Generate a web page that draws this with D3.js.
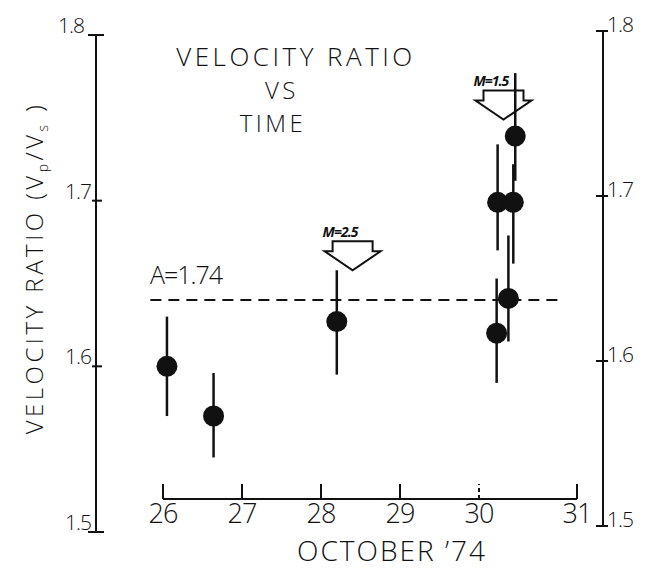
<!DOCTYPE html>
<html><head><meta charset="utf-8">
<script src="https://cdn.jsdelivr.net/npm/d3@7"></script>
<style>
body{margin:0;background:#fff;}
svg text{font-family:"Open Sans","DejaVu Sans",sans-serif;fill:#111;}
</style></head>
<body><svg id="c" width="645" height="569"></svg>
<script>
// ---- data ----
const xTicks = [26, 27, 28, 29, 30, 31];
const yTicks = [1.5, 1.6, 1.7, 1.8];
const days   = [26.05, 26.64, 28.2, 30.18, 30.19, 30.30, 30.35, 30.37];
const ratios = [1.600, 1.570, 1.627, 1.620, 1.699, 1.641, 1.699, 1.739];
const errLow = [1.570, 1.545, 1.595, 1.590, 1.670, 1.615, 1.662, 1.712];
const errHigh= [1.630, 1.596, 1.658, 1.653, 1.734, 1.679, 1.722, 1.777];
const refValue = 1.64, refLabel = "A=1.74", refStart = 25.84, refEnd = 30.8;
const arrowDays = [28.4, 30.25];
const arrowTips = [1.658, 1.749];
const arrowLabels = ["M=2.5", "M=1.5"];
const titleLines = ["VELOCITY RATIO", "VS", "TIME"];
const xTitle = "OCTOBER \u201974";

const svg = d3.select("#c");
const x = d3.scaleLinear().domain([26, 30, 31]).range([163, 479, 577]);
const yL = d3.scaleLinear().domain([1.5, 1.8]).range([532, 35]);
const yR = d3.scaleLinear().domain([1.5, 1.8]).range([526, 31]);
const axL = 96, axR = 603, axY = 499;
const ink = "#111";
const light = s => s.style("font-weight", 300);

// left axis
svg.append("line").attr("x1", axL).attr("x2", axL).attr("y1", yL(1.8)).attr("y2", yL(1.5))
  .attr("stroke", ink).attr("stroke-width", 2);
yTicks.forEach(v => {
  const ends = (v === 1.8 || v === 1.5);
  svg.append("line").attr("x1", axL - (ends ? 8 : 4)).attr("x2", axL + (ends ? 8 : 6))
    .attr("y1", yL(v)).attr("y2", yL(v)).attr("stroke", ink).attr("stroke-width", 2);
  light(svg.append("text").attr("x", axL - (v === 1.8 ? 12 : 5)).attr("y", yL(v) - 2).attr("text-anchor", "end")
    .attr("font-size", 21).attr("letter-spacing", -1).text(d3.format(".1f")(v)));
});
// right axis
svg.append("line").attr("x1", axR).attr("x2", axR).attr("y1", yR(1.8)).attr("y2", yR(1.5))
  .attr("stroke", ink).attr("stroke-width", 2);
yTicks.forEach(v => {
  svg.append("line").attr("x1", axR - 7).attr("x2", axR + 5)
    .attr("y1", yR(v)).attr("y2", yR(v)).attr("stroke", ink).attr("stroke-width", 2);
  light(svg.append("text").attr("x", axR + 4).attr("y", yR(v) + 1).attr("text-anchor", "start")
    .attr("font-size", 21).attr("letter-spacing", -1).text(d3.format(".1f")(v)));
});

// x axis
svg.append("line").attr("x1", x(26)).attr("x2", x(31)).attr("y1", axY).attr("y2", axY)
  .attr("stroke", ink).attr("stroke-width", 2);
xTicks.forEach(d => {
  svg.append("line").attr("x1", x(d)).attr("x2", x(d)).attr("y1", axY).attr("y2", axY - 15)
    .attr("stroke", ink).attr("stroke-width", 2)
    .attr("stroke-dasharray", d === 30 ? "4,3" : null);
  light(svg.append("text").attr("x", x(d)).attr("y", axY + 24).attr("text-anchor", "middle")
    .attr("font-size", 27).attr("letter-spacing", -1).text(d));
});
light(svg.append("text").attr("x", 392).attr("y", 561).attr("text-anchor", "middle")
  .attr("font-size", 28).attr("letter-spacing", 2).text(xTitle));

// y axis title
const yt = light(svg.append("text").attr("transform", "translate(43,268) rotate(-90)")
  .attr("text-anchor", "middle").attr("font-size", 24).attr("letter-spacing", 3.5));
yt.append("tspan").text("VELOCITY RATIO (V");
yt.append("tspan").attr("font-size", 14).attr("dy", 5).text("p");
yt.append("tspan").attr("dy", -5).text("/V");
yt.append("tspan").attr("font-size", 14).attr("dy", 5).text("s");
yt.append("tspan").attr("dy", -5).text(" )");

// title
const titleX = [296, 282, 273], titleY = [66, 99, 132], titleSize = [26, 24, 24];
titleLines.forEach((t, i) => {
  light(svg.append("text").attr("x", titleX[i]).attr("y", titleY[i])
    .attr("text-anchor", "middle").attr("font-size", titleSize[i]).attr("letter-spacing", 3.5).text(t));
});

// reference line
svg.append("line").attr("x1", x(refStart)).attr("x2", x(refEnd))
  .attr("y1", yL(refValue)).attr("y2", yL(refValue))
  .attr("stroke", ink).attr("stroke-width", 2).attr("stroke-dasharray", "11,7");
light(svg.append("text").attr("x", 150).attr("y", yL(refValue) - 16).attr("font-size", 25)
  .attr("letter-spacing", -1).text(refLabel));

// arrows
const arrowPath = "M-20,-29L20,-29L20,-19L28,-19L0,0L-28,-19L-20,-19Z";
arrowDays.forEach((d, i) => {
  const g = svg.append("g").attr("transform", `translate(${x(d)},${yL(arrowTips[i])})`);
  g.append("path").attr("d", arrowPath).attr("fill", "#fff").attr("stroke", ink).attr("stroke-width", 2);
  g.append("text").attr("x", -30).attr("y", -33).attr("font-size", 14)
    .style("font-style", "italic").style("font-weight", 700)
    .attr("letter-spacing", -1).text(arrowLabels[i]);
});

// error bars and points
svg.selectAll("line.err").data(days).join("line").attr("class", "err")
  .attr("x1", (d) => x(d)).attr("x2", (d) => x(d))
  .attr("y1", (d, i) => yL(errHigh[i])).attr("y2", (d, i) => yL(errLow[i]))
  .attr("stroke", ink).attr("stroke-width", 2.5);
svg.selectAll("circle.pt").data(days).join("circle").attr("class", "pt")
  .attr("cx", (d) => x(d)).attr("cy", (d, i) => yL(ratios[i])).attr("r", 10.5).attr("fill", ink);
</script></body></html>
